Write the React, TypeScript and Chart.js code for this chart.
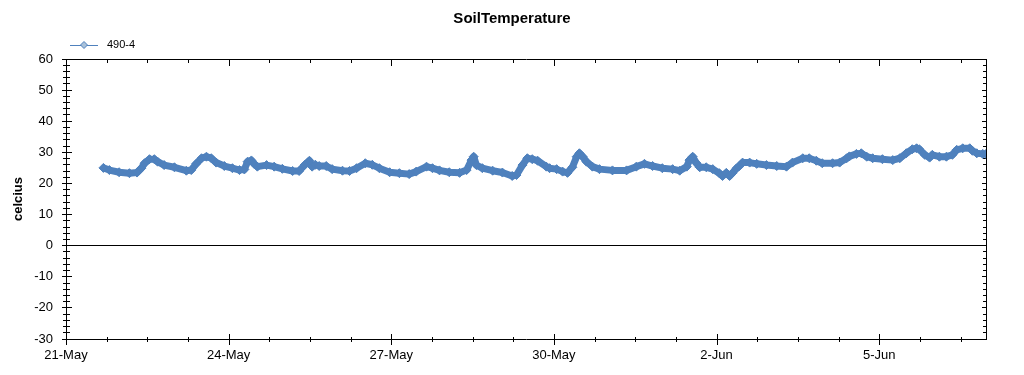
import React, { useEffect, useRef } from 'react';
import { Chart, registerables } from 'chart.js';

Chart.register(...registerables);

const chartTitle = 'SoilTemperature';
const seriesName = '490-4';
const yAxisTitle = 'celcius';

// days since 21-May 00:00
const dayOffsets = [
  0.69, 0.8, 0.98, 1.17, 1.31, 1.39, 1.45, 1.54, 1.63, 1.69, 1.81, 2.0, 2.22, 2.31, 2.4, 2.5, 2.59, 2.68, 2.77, 2.92,
  3.07, 3.2, 3.29, 3.35, 3.42, 3.47, 3.53, 3.7, 3.84, 3.99, 4.18, 4.3, 4.4, 4.49, 4.54, 4.6, 4.67, 4.8, 4.91, 5.1,
  5.23, 5.36, 5.52, 5.65, 5.78, 5.97, 6.15, 6.33, 6.46, 6.65, 6.76, 6.89, 7.07, 7.26, 7.39, 7.48, 7.52, 7.57, 7.68, 7.87,
  8.05, 8.23, 8.31, 8.42, 8.51, 8.6, 8.7, 8.86, 8.92, 9.05, 9.16, 9.25, 9.34, 9.42, 9.47, 9.53, 9.6, 9.71, 9.84, 10.08,
  10.34, 10.52, 10.67, 10.82, 11.0, 11.19, 11.32, 11.45, 11.5, 11.56, 11.63, 11.69, 11.81, 11.93, 12.05, 12.11, 12.18, 12.24, 12.29, 12.37,
  12.42, 12.48, 12.61, 12.74, 12.92, 13.11, 13.29, 13.4, 13.59, 13.71, 13.84, 13.95, 14.14, 14.27, 14.4, 14.45, 14.58, 14.67, 14.77, 14.88,
  15.06, 15.25, 15.38, 15.5, 15.61, 15.69, 15.74, 15.84, 15.93, 15.98, 16.11, 16.24, 16.35, 16.43, 16.54, 16.67, 16.72, 16.8, 16.91, 16.97,
];

const temps = [
  25.0, 24.3, 23.6, 23.3, 23.5, 24.9, 26.5, 27.8, 27.8, 27.0, 25.9, 25.2, 24.1, 24.3, 26.3, 28.1, 28.6, 28.1, 26.7, 25.6,
  24.9, 24.3, 24.5, 27.0, 27.4, 26.3, 25.4, 25.9, 25.4, 24.7, 24.0, 24.0, 25.9, 27.3, 25.4, 26.0, 25.6, 25.6, 24.6, 24.1,
  24.0, 24.9, 26.5, 26.0, 24.9, 23.6, 23.3, 23.0, 23.8, 25.4, 24.9, 24.2, 23.6, 23.4, 24.3, 27.5, 28.6, 25.9, 24.9, 24.1,
  23.5, 22.4, 22.7, 25.9, 28.1, 27.8, 27.3, 25.4, 24.9, 24.6, 23.8, 23.4, 25.2, 28.6, 29.7, 28.6, 27.0, 25.4, 24.6, 24.2,
  24.2, 25.4, 26.3, 25.6, 24.9, 24.6, 24.1, 25.4, 27.5, 28.6, 26.5, 25.2, 25.2, 24.6, 23.3, 22.4, 23.4, 22.4, 23.3, 24.9,
  25.6, 26.7, 26.7, 26.3, 25.9, 25.6, 25.4, 26.7, 28.1, 28.1, 27.3, 26.5, 26.5, 26.7, 28.1, 28.7, 29.5, 29.7, 28.6, 28.1,
  27.8, 27.5, 28.1, 29.7, 31.0, 31.3, 31.0, 29.2, 28.3, 29.2, 28.6, 28.6, 29.2, 30.8, 31.3, 31.3, 30.5, 29.7, 29.5, 29.5,
];

const majorTickDays = [0, 3, 6, 9, 12, 15];
const majorTickLabels = ['21-May', '24-May', '27-May', '30-May', '2-Jun', '5-Jun'];
const xMin = 0;
const xMax = 16.97;
const xMinorStep = 0.75;
const yMin = -30;
const yMax = 60;
const yMajorStep = 10;
const yMinorStep = 2;

const FONT = "'Liberation Sans', Arial, sans-serif";
const LINE_COLOR = '#4f81bd';

const framePlugin = {
  id: 'frame',
  beforeDatasetsDraw(chart: any) {
    const { ctx, chartArea } = chart;
    const { left, right, top, bottom } = chartArea;
    const xs = chart.scales.x;
    const ys = chart.scales.y;
    ctx.save();
    ctx.strokeStyle = '#000';
    ctx.lineWidth = 1;
    ctx.beginPath();
    ctx.rect(left + 0.5, top + 0.5, right - left, bottom - top);
    const zy = Math.floor(ys.getPixelForValue(0)) + 0.5;
    ctx.moveTo(left, zy);
    ctx.lineTo(right, zy);
    for (let v = yMin; v <= yMax + 1e-9; v += yMinorStep) {
      const py = Math.floor(ys.getPixelForValue(v)) + 0.5;
      const major = Math.abs(v % yMajorStep) < 1e-9;
      if (major) {
        ctx.moveTo(left - 4, py);
        ctx.lineTo(left + 6, py);
        ctx.moveTo(right - 4, py);
        ctx.lineTo(right + 1, py);
      } else {
        ctx.moveTo(left - 3, py);
        ctx.lineTo(left + 4, py);
        ctx.moveTo(right - 3, py);
        ctx.lineTo(right + 1, py);
      }
    }
    for (let v = xMin; v <= xMax + 1e-9; v += xMinorStep) {
      const px = Math.round(xs.getPixelForValue(v)) + 0.5;
      const major = majorTickDays.some((d) => Math.abs(d - v) < 1e-6);
      if (major) {
        ctx.moveTo(px, bottom - 5);
        ctx.lineTo(px, bottom + 6);
        ctx.moveTo(px, top);
        ctx.lineTo(px, top + 7);
      } else {
        ctx.moveTo(px, bottom - 2);
        ctx.lineTo(px, bottom + 3);
        ctx.moveTo(px, top);
        ctx.lineTo(px, top + 4);
      }
    }
    ctx.stroke();
    ctx.restore();
  },
  afterDraw(chart: any) {
    const { ctx, chartArea } = chart;
    ctx.save();
    ctx.fillStyle = '#000';
    ctx.font = `bold 15px ${FONT}`;
    ctx.textAlign = 'center';
    ctx.textBaseline = 'middle';
    ctx.fillText(chartTitle, 512, 19);
    ctx.save();
    ctx.translate(18, (chartArea.top + chartArea.bottom) / 2);
    ctx.rotate(-Math.PI / 2);
    ctx.font = `bold 13px ${FONT}`;
    ctx.fillText(yAxisTitle, 0, 0);
    ctx.restore();
    ctx.strokeStyle = LINE_COLOR;
    ctx.lineWidth = 1;
    ctx.beginPath();
    ctx.moveTo(70, 45.5);
    ctx.lineTo(98, 45.5);
    ctx.stroke();
    ctx.beginPath();
    ctx.moveTo(84, 41.5);
    ctx.lineTo(87.5, 45);
    ctx.lineTo(84, 48.5);
    ctx.lineTo(80.5, 45);
    ctx.closePath();
    ctx.fillStyle = '#a9c1d9';
    ctx.fill();
    ctx.stroke();
    ctx.fillStyle = '#000';
    ctx.font = `11px ${FONT}`;
    ctx.textAlign = 'left';
    ctx.fillText(seriesName, 107, 45);
    ctx.restore();
  },
};

export default function App() {
  const canvasRef = useRef<HTMLCanvasElement>(null);

  useEffect(() => {
    if (!canvasRef.current) return;
    const points = dayOffsets.map((d, i) => ({ x: d, y: temps[i] }));
    const chart = new Chart(canvasRef.current, {
      type: 'line',
      data: {
        datasets: [
          {
            label: seriesName,
            data: points,
            borderColor: LINE_COLOR,
            backgroundColor: LINE_COLOR,
            borderWidth: 7,
            borderJoinStyle: 'round',
            pointStyle: 'rectRot',
            pointRadius: 4.5,
            pointBackgroundColor: LINE_COLOR,
            pointBorderColor: LINE_COLOR,
            pointBorderWidth: 1,
            tension: 0,
            fill: false,
          },
        ],
      },
      options: {
        responsive: false,
        animation: false,
        devicePixelRatio: 1,
        layout: { padding: { top: 59, right: 38, bottom: 0, left: 0 } },
        plugins: {
          legend: { display: false },
          title: { display: false },
          tooltip: { enabled: false },
        },
        events: [],
        scales: {
          x: {
            type: 'linear',
            min: xMin,
            max: xMax,
            grid: { display: false, drawTicks: false },
            border: { display: false },
            afterBuildTicks: (scale: any) => {
              scale.ticks = majorTickDays.map((v) => ({ value: v }));
            },
            afterFit: (scale: any) => {
              scale.height = 36;
            },
            ticks: {
              autoSkip: false,
              maxRotation: 0,
              padding: 9,
              color: '#000',
              font: { family: FONT, size: 13 },
              callback: (_v: any, i: number) => majorTickLabels[i] ?? '',
            },
          },
          y: {
            min: yMin,
            max: yMax,
            grid: { display: false, drawTicks: false },
            border: { display: false },
            afterFit: (scale: any) => {
              scale.width = 66;
            },
            ticks: {
              stepSize: yMajorStep,
              padding: 13,
              color: '#000',
              font: { family: FONT, size: 13 },
            },
          },
        },
      },
      plugins: [framePlugin],
    });
    return () => chart.destroy();
  }, []);

  return (
    <div style={{ position: 'absolute', left: 0, top: 0, width: 1024, height: 375, background: '#fff' }}>
      <canvas ref={canvasRef} width={1024} height={375} style={{ display: 'block', width: 1024, height: 375 }} />
    </div>
  );
}
